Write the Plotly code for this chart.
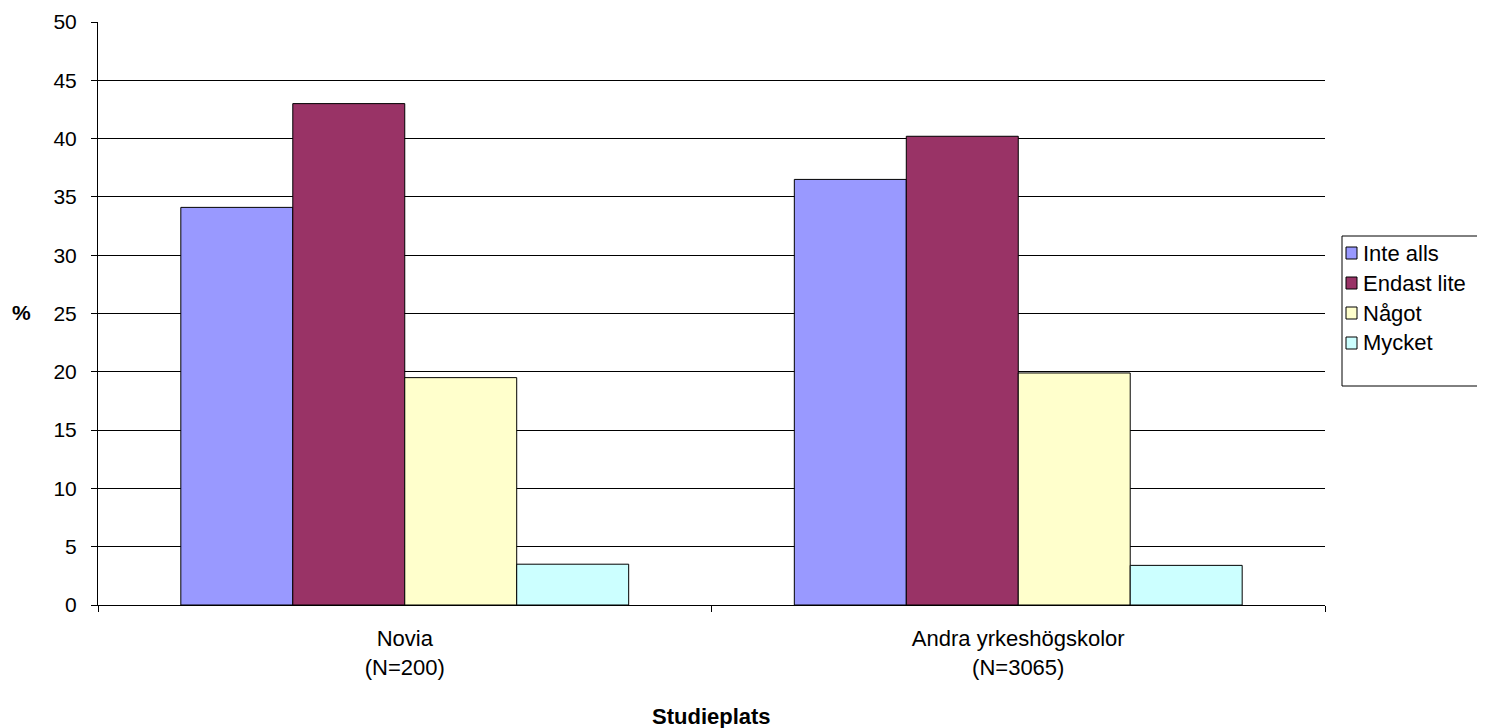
import plotly.graph_objects as go

categories = ["Novia<br>(N=200)", "Andra yrkeshögskolor<br>(N=3065)"]
series_names = ["Inte alls", "Endast lite", "Något", "Mycket"]
inte_alls = [34.1, 36.5]
endast_lite = [43.0, 40.2]
nagot = [19.5, 19.9]
mycket = [3.5, 3.4]
colors = ["#9999FF", "#993366", "#FFFFCC", "#CCFFFF"]
y_ticks = [0, 5, 10, 15, 20, 25, 30, 35, 40, 45, 50]

fig = go.Figure()
for name, vals, col in zip(series_names, [inte_alls, endast_lite, nagot, mycket], colors):
    fig.add_trace(go.Bar(
        x=categories, y=vals, name=name,
        marker=dict(color=col, line=dict(color="black", width=1)),
    ))

font = "Liberation Sans, Arial, sans-serif"
fig.update_layout(
    width=1485, height=728,
    paper_bgcolor="white", plot_bgcolor="white",
    margin=dict(l=90, r=168, t=14, b=131, autoexpand=False),
    barmode="group", bargap=0.27, bargroupgap=0,
    font=dict(family=font, size=22, color="black"),
    showlegend=False,
    xaxis=dict(
        showgrid=False, showline=True, linecolor="black", linewidth=1,
        ticks="outside", tickson="boundaries", ticklen=6, tickcolor="black",
        tickfont=dict(family=font, size=22), ticklabelstandoff=14,
    ),
    yaxis=dict(
        range=[0, 50], tickvals=y_ticks, showgrid=True, gridcolor="black", gridwidth=1,
        showline=True, linecolor="black", linewidth=1, zeroline=False,
        ticks="outside", ticklen=6, tickcolor="black",
        tickfont=dict(family=font, size=21), ticklabelstandoff=10,
    ),
)

# pixel -> paper helpers (plot area: x 98..1325, y 22..605 on page)
def px(x):
    return (x - 98) / 1227.0

def py(y):
    return (605 - y) / 583.0

# legend box
fig.add_shape(type="rect", xref="paper", yref="paper",
              x0=px(1342), x1=px(1500), y0=py(386), y1=py(236),
              line=dict(color="black", width=1), fillcolor="rgba(255,255,255,0)")
for i, (name, col) in enumerate(zip(series_names, colors)):
    cy = 253 + 30 * i
    fig.add_shape(type="rect", xref="paper", yref="paper",
                  x0=px(1346), x1=px(1357), y0=py(cy + 6), y1=py(cy - 6),
                  line=dict(color="black", width=1), fillcolor=col)
    fig.add_annotation(text=name, xref="paper", yref="paper",
                       x=px(1361), y=py(cy), showarrow=False,
                       xanchor="left", yanchor="middle",
                       font=dict(family=font, size=22, color="black"))

fig.add_annotation(
    text="<b>%</b>", xref="paper", yref="paper", x=-0.062, y=0.501,
    showarrow=False, xanchor="center", yanchor="middle",
    font=dict(family=font, size=21, color="black"),
)
fig.add_annotation(
    text="<b>Studieplats</b>", xref="paper", yref="paper", x=0.5, y=-0.192,
    showarrow=False, xanchor="center", yanchor="middle",
    font=dict(family=font, size=22, color="black"),
)
fig.write_html("out.html")
